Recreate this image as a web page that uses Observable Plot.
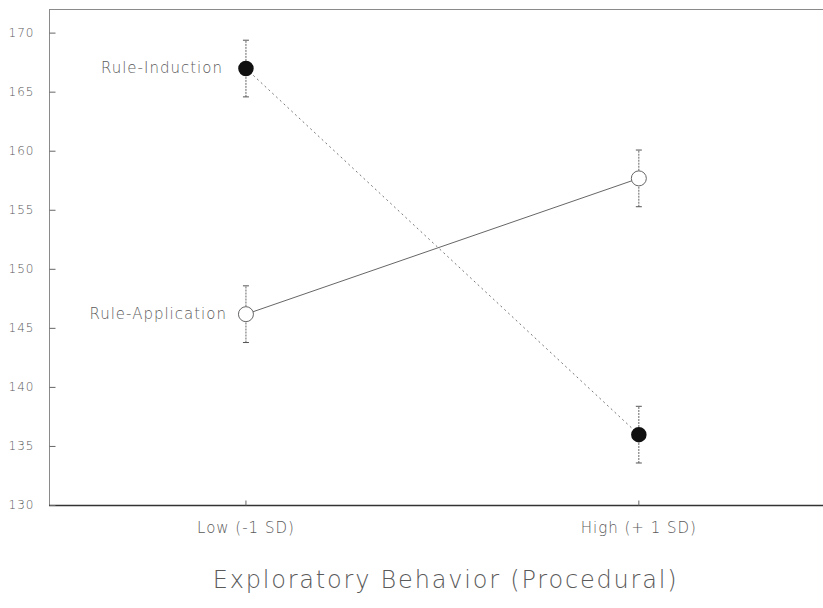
<!DOCTYPE html>
<html>
<head>
<meta charset="utf-8">
<script src="https://cdn.jsdelivr.net/npm/d3@7"></script>
<script src="https://cdn.jsdelivr.net/npm/@observablehq/plot@0.6"></script>
<style>
  body { margin: 0; background: #fff; }
  svg { display: block; }
  #chart text { letter-spacing: 1px; }
  #chart .title text { letter-spacing: 1.8px; }
</style>
</head>
<body>
<div id="chart"></div>
<script>
// ---- data ----
const levels = ["Low (-1 SD)", "High (+ 1 SD)"];
const groups = ["Rule-Induction", "Rule-Application"];
const inductionMeans = [167.0, 136.0];
const applicationMeans = [146.2, 157.7];
const inductionErr = [2.4, 2.4];
const applicationErr = [2.4, 2.4];
const yTicks = [130, 135, 140, 145, 150, 155, 160, 165, 170];
const xTicks = [0, 1];
const xTitle = "Exploratory Behavior (Procedural)";

const xDomain = [-0.5, 1.47];
const yDomain = [130, 172];

const rows = [];
levels.forEach((lv, i) => {
  rows.push({group: groups[0], i, level: lv, mean: inductionMeans[i], err: inductionErr[i]});
  rows.push({group: groups[1], i, level: lv, mean: applicationMeans[i], err: applicationErr[i]});
});
const induction = rows.filter(d => d.group === groups[0]);
const application = rows.filter(d => d.group === groups[1]);

// custom symbols: error-bar cap and inward ticks
const capSymbol = {
  draw(ctx, size) {
    const r = Math.sqrt(size / Math.PI);
    ctx.moveTo(-r, 0);
    ctx.lineTo(r, 0);
  }
};
const tickRight = {
  draw(ctx, size) {
    const r = Math.sqrt(size / Math.PI);
    ctx.moveTo(0, 0);
    ctx.lineTo(r, 0);
  }
};
const tickUp = {
  draw(ctx, size) {
    const r = Math.sqrt(size / Math.PI);
    ctx.moveTo(0, 0);
    ctx.lineTo(0, -r);
  }
};

const font = "DejaVu Sans";
const textGray = "#5a5a5a";

const chart = Plot.plot({
  width: 823,
  height: 608,
  marginTop: 9,
  marginLeft: 49,
  marginRight: 0,
  marginBottom: 103,
  style: {fontFamily: font, background: "#fff"},
  x: {domain: xDomain, axis: null},
  y: {domain: yDomain, axis: null},
  marks: [
    // frame lines
    Plot.ruleX([xDomain[0]], {stroke: "#8a8a8a", strokeWidth: 1}),
    Plot.ruleY([yDomain[1]], {stroke: "#8a8a8a", strokeWidth: 1}),
    Plot.ruleY([yDomain[0]], {stroke: "#333", strokeWidth: 1.3}),
    // inward ticks
    Plot.dot(yTicks, {x: () => xDomain[0], y: d => d, symbol: tickRight, r: 6, stroke: "#666", strokeWidth: 1}),
    Plot.dot(xTicks, {x: d => d, y: () => yDomain[0], symbol: tickUp, r: 5, stroke: "#666", strokeWidth: 1}),
    // axis labels
    Plot.axisY(yTicks, {anchor: "left", tickSize: 0, tickPadding: 15, fontSize: 12, fill: textGray, fontWeight: 200, label: null}),
    Plot.axisX(xTicks, {anchor: "bottom", tickSize: 0, tickPadding: 17, fontSize: 15, fill: textGray, fontWeight: 200, tickFormat: i => levels[i], label: null}),
    // lines
    Plot.line(induction, {x: "i", y: "mean", stroke: "#777", strokeWidth: 1, strokeDasharray: "1.2,4"}),
    Plot.line(application, {x: "i", y: "mean", stroke: "#666", strokeWidth: 1}),
    // error bars
    Plot.link(rows, {x1: "i", x2: "i", y1: d => d.mean - d.err, y2: d => d.mean + d.err, stroke: "#666", strokeWidth: 1, strokeDasharray: "2,1"}),
    Plot.dot(rows, {x: "i", y: d => d.mean + d.err, symbol: capSymbol, r: 3, stroke: "#555", strokeWidth: 1}),
    Plot.dot(rows, {x: "i", y: d => d.mean - d.err, symbol: capSymbol, r: 3, stroke: "#555", strokeWidth: 1}),
    // points
    Plot.dot(induction, {x: "i", y: "mean", r: 7, fill: "#111", stroke: "#111"}),
    Plot.dot(application, {x: "i", y: "mean", r: 7.5, fill: "#fff", stroke: "#666", strokeWidth: 1}),
    // series labels
    Plot.text(induction.filter(d => d.i === 0), {x: "i", y: "mean", text: "group", textAnchor: "end", dx: -23, fontSize: 15, fill: textGray, fontWeight: 200}),
    Plot.text(application.filter(d => d.i === 0), {x: "i", y: "mean", text: "group", textAnchor: "end", dx: -19, fontSize: 15, fill: textGray, fontWeight: 200}),
    // axis title
    Plot.text([xTitle], {text: d => d, frameAnchor: "bottom", dy: 75, dx: 9, fontSize: 24, fill: textGray, fontWeight: 200, lineAnchor: "middle", className: "title"})
  ]
});
document.getElementById("chart").appendChild(chart);
</script>
</body>
</html>
